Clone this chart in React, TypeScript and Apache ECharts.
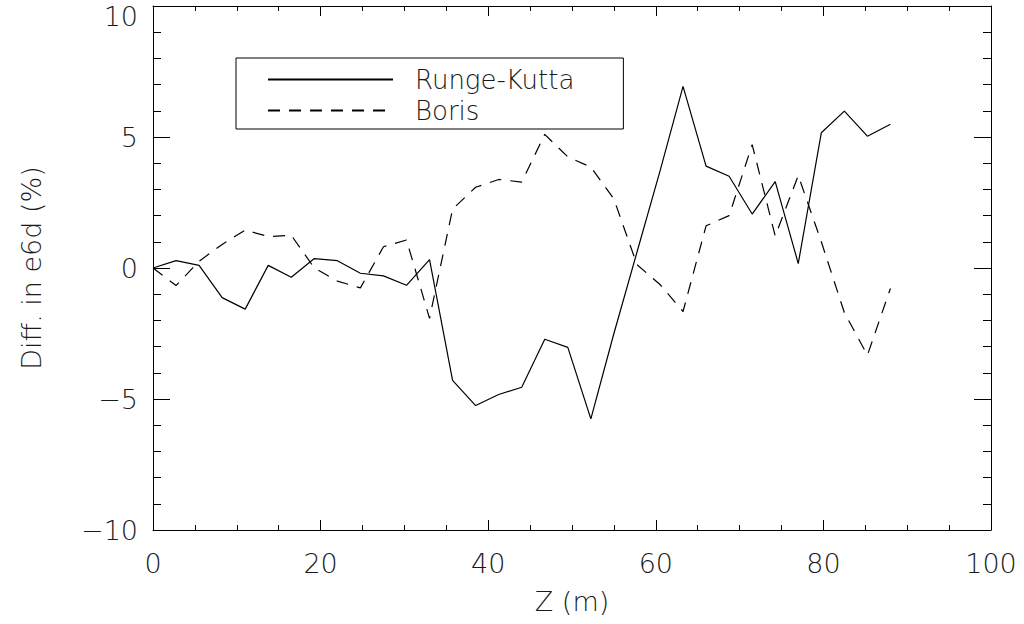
import { useEffect, useRef } from "react";
import * as echarts from "echarts";

const zPositions = [
  0, 2.75, 5.5, 8.25, 11, 13.75, 16.5, 19.25, 22, 24.75, 27.5, 30.25, 33, 35.75,
  38.5, 41.25, 44, 46.75, 49.5, 52.25, 55, 57.75, 60.5, 63.25, 66, 68.75, 71.5,
  74.25, 77, 79.75, 82.5, 85.25, 88,
];

const rungeKutta = [
  0, 0.28, 0.1, -1.13, -1.57, 0.1, -0.35, 0.36, 0.28, -0.2, -0.3, -0.66, 0.32,
  -4.29, -5.25, -4.83, -4.55, -2.72, -3.03, -5.76, -2.5, 0.6, 3.7, 6.93, 3.89,
  3.5, 2.06, 3.3, 0.17, 5.16, 5.99, 5.03, 5.49,
];

const boris = [
  0, -0.67, 0.26, 0.9, 1.45, 1.2, 1.25, 0.0, -0.5, -0.76, 0.81, 1.07, -1.92,
  2.25, 3.08, 3.38, 3.28, 5.1, 4.24, 3.85, 2.63, 0.13, -0.63, -1.66, 1.61, 2.0,
  4.71, 1.22, 3.53, 1.0, -1.7, -3.33, -0.78,
];

const seriesNames = ["Runge-Kutta", "Boris"];
const xRange = [0, 100];
const yRange = [-10, 10];

const FONT = "DejaVu Sans";
const WEIGHT = 200;
const TEXT_COLOR = "#1a1a1a";

export default function App() {
  const ref = useRef<HTMLDivElement>(null);

  useEffect(() => {
    if (!ref.current) return;
    const chart = echarts.init(ref.current, null, { renderer: "svg" });

    const xBase = {
      type: "value" as const,
      min: xRange[0],
      max: xRange[1],
      interval: 20,
      splitLine: { show: false },
      axisLine: { show: true, onZero: false, lineStyle: { color: "#000", width: 1 } },
      axisTick: { show: true, inside: true, length: 10, lineStyle: { color: "#000" } },
      minorTick: { show: true, splitNumber: 4, length: 5, lineStyle: { color: "#000" } },
    };
    const yBase = {
      type: "value" as const,
      min: yRange[0],
      max: yRange[1],
      interval: 5,
      splitLine: { show: false },
      axisLine: { show: true, onZero: false, lineStyle: { color: "#000", width: 1 } },
      axisTick: { show: true, inside: true, length: 17, lineStyle: { color: "#000" } },
      minorTick: { show: true, splitNumber: 5, length: 8, lineStyle: { color: "#000" } },
    };
    const labelStyle = {
      fontFamily: FONT,
      fontWeight: WEIGHT,
      fontSize: 27,
      color: TEXT_COLOR,
    };

    chart.setOption({
      animation: false,
      backgroundColor: "#fff",
      grid: { left: 153, right: 33, top: 6, bottom: 94, containLabel: false },
      legend: {
        orient: "vertical",
        left: 236,
        top: 58,
        itemWidth: 125,
        itemHeight: 14,
        itemGap: 0,
        padding: [6, 49, 3, 31],
        borderColor: "#000",
        borderWidth: 1,
        borderRadius: 0,
        selectedMode: false,
        data: seriesNames,
        itemStyle: { opacity: 0 },
        textStyle: {
          fontFamily: FONT,
          fontWeight: WEIGHT,
          fontSize: 26,
          lineHeight: 31,
          color: TEXT_COLOR,
          padding: [0, 0, 0, 17],
        },
      },
      xAxis: [
        {
          ...xBase,
          position: "bottom",
          name: "Z (m)",
          nameLocation: "middle",
          nameGap: 58,
          nameTextStyle: { ...labelStyle },
          axisLabel: { ...labelStyle, margin: 20 },
        },
        {
          ...xBase,
          position: "top",
          axisLabel: { show: false },
        },
      ],
      yAxis: [
        {
          ...yBase,
          position: "left",
          name: "Diff. in e6d (%)",
          nameLocation: "middle",
          nameGap: 108,
          nameTextStyle: { ...labelStyle },
          axisLabel: {
            ...labelStyle,
            margin: 15,
            formatter: (v: number) =>
              v === yRange[1]
                ? "{t|" + v + "}"
                : v < 0
                ? "\u2212" + Math.abs(v)
                : String(v),
            rich: {
              t: { ...labelStyle, padding: [20, 0, 0, 0] },
            },
          },
        },
        {
          ...yBase,
          position: "right",
          axisLabel: { show: false },
        },
      ],
      series: [
        {
          name: seriesNames[0],
          type: "line",
          xAxisIndex: 0,
          yAxisIndex: 0,
          symbol: "none",
          lineStyle: { color: "#000", width: 1.2, type: "solid" },
          itemStyle: { color: "#000" },
          data: zPositions.map((z, i) => [z, rungeKutta[i]]),
        },
        {
          name: seriesNames[1],
          type: "line",
          xAxisIndex: 0,
          yAxisIndex: 0,
          symbol: "none",
          lineStyle: { color: "#000", width: 1.2, type: [12, 9] },
          itemStyle: { color: "#000" },
          data: zPositions.map((z, i) => [z, boris[i]]),
        },
      ],
    });

    return () => chart.dispose();
  }, []);

  return (
    <div
      ref={ref}
      style={{ position: "absolute", left: 0, top: 0, width: 1024, height: 624 }}
    />
  );
}
